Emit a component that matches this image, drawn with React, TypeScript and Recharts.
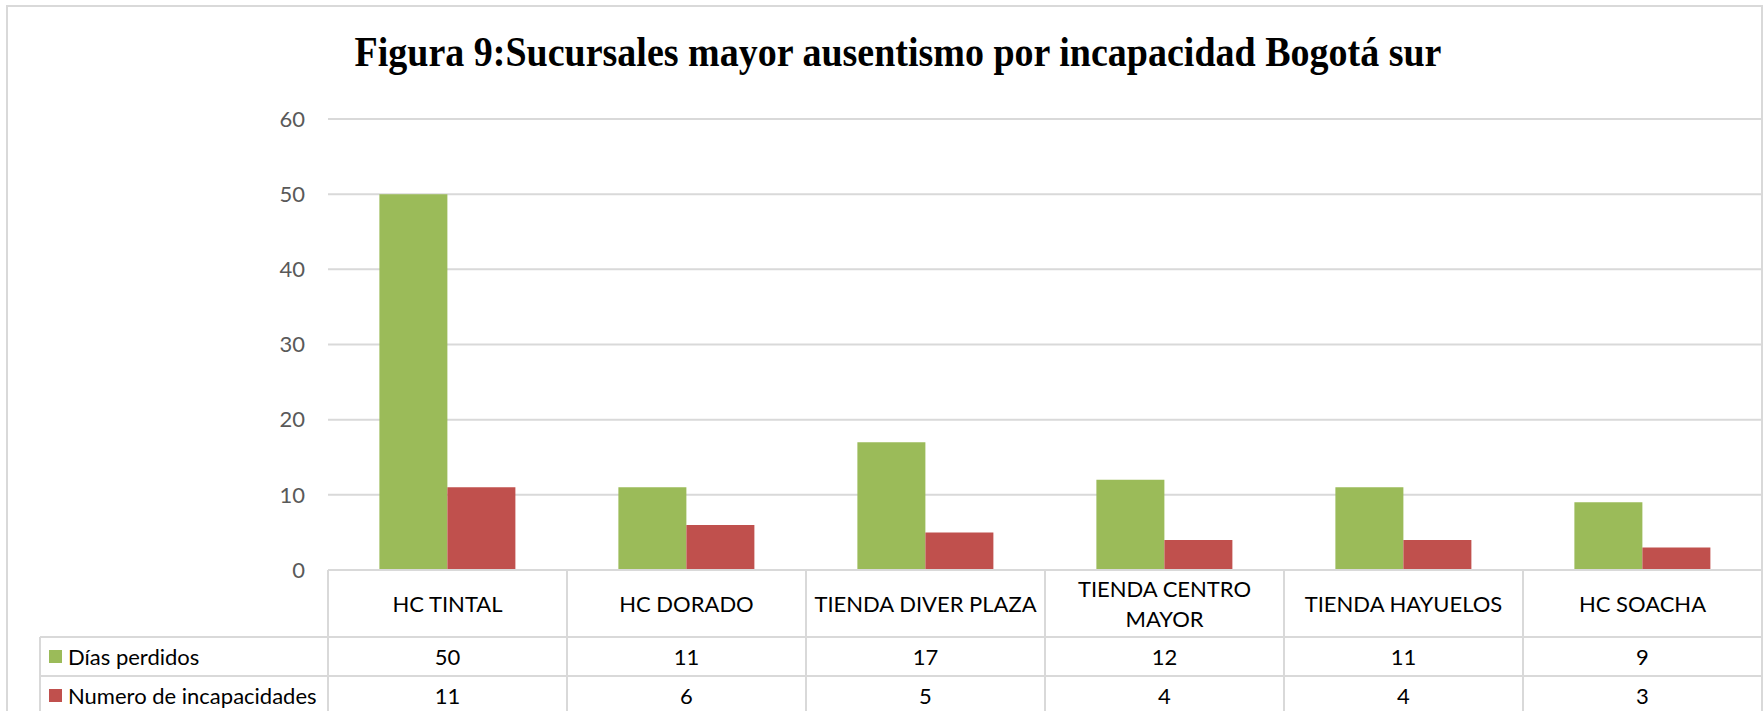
import React from 'react';
import { BarChart, Bar, XAxis, YAxis, CartesianGrid } from 'recharts';

const sucursales = ['HC TINTAL', 'HC DORADO', 'TIENDA DIVER PLAZA', 'TIENDA CENTRO MAYOR', 'TIENDA HAYUELOS', 'HC SOACHA'];
const diasPerdidos = [50, 11, 17, 12, 11, 9];
const numeroIncapacidades = [11, 6, 5, 4, 4, 3];
const yTicks = [0, 10, 20, 30, 40, 50, 60];

const series = [
  { key: 'dias', name: 'Días perdidos', color: '#9BBB59', values: diasPerdidos },
  { key: 'incap', name: 'Numero de incapacidades', color: '#C0504D', values: numeroIncapacidades },
];

const data = sucursales.map((name, i) => ({ name, dias: diasPerdidos[i], incap: numeroIncapacidades[i] }));

const W = 1763;
const H = 711;
const PLOT_LEFT = 328;
const PLOT_RIGHT = 1762;
const PLOT_TOP = 119;
const PLOT_BOTTOM = 570;
const HEADER_H = 67;
const ROW_H = 39;
const LEGEND_LEFT = 40;
const GRID = '#D9D9D9';
const FONT = 'Lato, "Noto Sans", sans-serif';
const FS = 22;

// split long labels the way Excel wraps them in the data table
const wrapLabel = (s: string) => {
  if (s.length <= 18) return [s];
  const i = s.lastIndexOf(' ');
  return [s.slice(0, i), s.slice(i + 1)];
};

const TableTick = (props: any) => {
  const { x, y, payload, index } = props;
  const band = (PLOT_RIGHT - PLOT_LEFT) / sucursales.length;
  const x0 = x - band / 2;
  const x1 = x + band / 2;
  const lines = wrapLabel(payload.value);
  const headMid = y + HEADER_H / 2;
  const r1 = y + HEADER_H;
  const r2 = r1 + ROW_H;
  const bottom = r2 + ROW_H + 10;
  return (
    <g>
      <line x1={x0} y1={y} x2={x0} y2={bottom} stroke={GRID} strokeWidth={2} />
      <line x1={x1} y1={y} x2={x1} y2={bottom} stroke={GRID} strokeWidth={2} />
      <line x1={x0} y1={r1} x2={x1} y2={r1} stroke={GRID} strokeWidth={2} />
      <line x1={x0} y1={r2} x2={x1} y2={r2} stroke={GRID} strokeWidth={2} />
      {lines.map((t, i) => (
        <text key={t} x={x} y={headMid + (i - (lines.length - 1) / 2) * 30} textAnchor="middle"
          dominantBaseline="central" fontFamily={FONT} fontSize={FS} fill="#000">{t}</text>
      ))}
      {series.map((s, i) => (
        <text key={s.key} x={x} y={r1 + ROW_H * i + ROW_H / 2} textAnchor="middle"
          dominantBaseline="central" fontFamily={FONT} fontSize={FS} fill="#000">{s.values[index]}</text>
      ))}
      {index === 0 && (
        <g>
          <line x1={LEGEND_LEFT} y1={r1} x2={x0} y2={r1} stroke={GRID} strokeWidth={2} />
          <line x1={LEGEND_LEFT} y1={r2} x2={x0} y2={r2} stroke={GRID} strokeWidth={2} />
          <line x1={LEGEND_LEFT} y1={r1} x2={LEGEND_LEFT} y2={bottom} stroke={GRID} strokeWidth={2} />
          {series.map((s, i) => (
            <g key={s.key}>
              <rect x={LEGEND_LEFT + 9} y={r1 + ROW_H * i + ROW_H / 2 - 6.5} width={13} height={13} fill={s.color} />
              <text x={LEGEND_LEFT + 28} y={r1 + ROW_H * i + ROW_H / 2} dominantBaseline="central"
                fontFamily={FONT} fontSize={FS} fill="#000">{s.name}</text>
            </g>
          ))}
        </g>
      )}
    </g>
  );
};

export default function App() {
  return (
    <div style={{ position: 'absolute', left: 0, top: 0, width: W, height: H, background: '#fff', overflow: 'hidden' }}>
      <div style={{ position: 'absolute', left: 6, top: 5, width: 1753, height: 740, border: `2px solid ${GRID}` }} />
      <div style={{
        position: 'absolute', left: 898 - 700, width: 1400, top: 35, textAlign: 'center',
        fontFamily: '"Liberation Serif", "Times New Roman", serif', fontWeight: 'bold', fontSize: 38,
        lineHeight: 1, color: '#000', transform: 'scaleY(1.1)', transformOrigin: '50% 100%',
      }}>Figura 9:Sucursales mayor ausentismo por incapacidad Bogotá sur</div>
      <div style={{ position: 'absolute', left: 0, top: 0 }}>
        <BarChart width={W} height={H} data={data}
          margin={{ top: PLOT_TOP, right: W - PLOT_RIGHT, bottom: 0, left: PLOT_LEFT - 60 }}
          barCategoryGap="21.5%" barGap={0}>
          <CartesianGrid vertical={false} stroke={GRID} strokeWidth={2} />
          <YAxis domain={[0, 60]} ticks={yTicks} width={60} axisLine={false} tickLine={false}
            tickSize={0} tickMargin={23} interval={0}
            tick={{ fill: '#595959', fontSize: FS, fontFamily: FONT }} />
          <XAxis dataKey="name" height={H - PLOT_BOTTOM} axisLine={{ stroke: GRID, strokeWidth: 2 }}
            tickLine={false} tickSize={0} tickMargin={0} interval={0} tick={<TableTick />} />
          {series.map((s) => (
            <Bar key={s.key} dataKey={s.key} name={s.name} fill={s.color} isAnimationActive={false} />
          ))}
        </BarChart>
      </div>
    </div>
  );
}
